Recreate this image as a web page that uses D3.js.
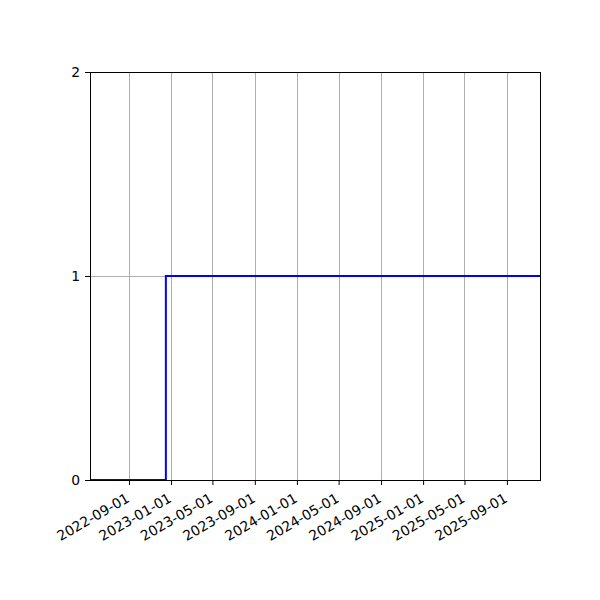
<!DOCTYPE html>
<html>
<head>
<meta charset="utf-8">
<script src="https://cdn.jsdelivr.net/npm/d3@7"></script>
<style>
  body { margin: 0; background: #fff; }
  svg { font-family: "DejaVu Sans", sans-serif; }
</style>
</head>
<body>
<div id="chart"></div>
<script>
// step series (value holds until the next date)
const stepDates = ["2022-05-11", "2022-12-17", "2025-12-06"];
const stepValues = [0, 1, 1];
const xTickDates = ["2022-09-01", "2023-01-01", "2023-05-01", "2023-09-01", "2024-01-01",
  "2024-05-01", "2024-09-01", "2025-01-01", "2025-05-01", "2025-09-01"];
const yTicks = [0, 1, 2];

const width = 600, height = 600;
const margin = { top: 72, right: 60, bottom: 120, left: 90 };

const parse = d3.utcParse("%Y-%m-%d");
const fmt = d3.utcFormat("%Y-%m-%d");
const data = stepDates.map((d, i) => ({ date: parse(d), value: stepValues[i] }));

const svg = d3.select("#chart")
  .append("svg")
  .attr("width", width)
  .attr("height", height);

const x = d3.scaleUtc()
  .domain([parse(stepDates[0]), parse(stepDates[stepDates.length - 1])])
  .range([margin.left, width - margin.right]);

const y = d3.scaleLinear()
  .domain([0, 2])
  .range([height - margin.bottom, margin.top]);

const xTicks = xTickDates.map(parse);

// grid
svg.append("g")
  .selectAll("line")
  .data(xTicks)
  .join("line")
  .attr("x1", d => Math.round(x(d)) + 0.5).attr("x2", d => Math.round(x(d)) + 0.5)
  .attr("y1", margin.top).attr("y2", height - margin.bottom)
  .attr("stroke", "#b0b0b0")
  .attr("stroke-width", 1);

svg.append("g")
  .selectAll("line")
  .data(yTicks)
  .join("line")
  .attr("x1", margin.left).attr("x2", width - margin.right)
  .attr("y1", d => y(d) + 0.5).attr("y2", d => y(d) + 0.5)
  .attr("stroke", "#b0b0b0")
  .attr("stroke-width", 1);

// step line
const line = d3.line()
  .x(d => x(d.date))
  .y(d => y(d.value))
  .curve(d3.curveStepAfter);

svg.append("path")
  .datum(data)
  .attr("fill", "none")
  .attr("stroke", "#0000ff")
  .attr("stroke-width", 2)
  .attr("d", line);

// frame
svg.append("rect")
  .attr("x", margin.left + 0.5)
  .attr("y", margin.top + 0.5)
  .attr("width", width - margin.left - margin.right)
  .attr("height", height - margin.top - margin.bottom)
  .attr("fill", "none")
  .attr("stroke", "#000")
  .attr("stroke-width", 1);

// axes
const xAxis = svg.append("g")
  .attr("transform", `translate(0,${height - margin.bottom})`)
  .call(d3.axisBottom(x).tickValues(xTicks).tickFormat(fmt).tickSize(5).tickSizeOuter(0));

xAxis.select(".domain").remove();
xAxis.selectAll("text")
  .attr("font-size", 13.9)
  .attr("font-family", "DejaVu Sans")
  .attr("fill", "#000")
  .attr("text-anchor", "end")
  .attr("x", 0)
  .attr("y", 0)
  .attr("dy", 0)
  .attr("transform", "translate(1,21) rotate(-30)");

const yAxis = svg.append("g")
  .attr("transform", `translate(${margin.left},0)`)
  .call(d3.axisLeft(y).tickValues(yTicks).tickFormat(d3.format("d")).tickSize(5).tickSizeOuter(0));

yAxis.select(".domain").remove();
yAxis.selectAll("text")
  .attr("font-size", 13.9)
  .attr("font-family", "DejaVu Sans")
  .attr("fill", "#000")
  .attr("x", -10);
</script>
</body>
</html>
